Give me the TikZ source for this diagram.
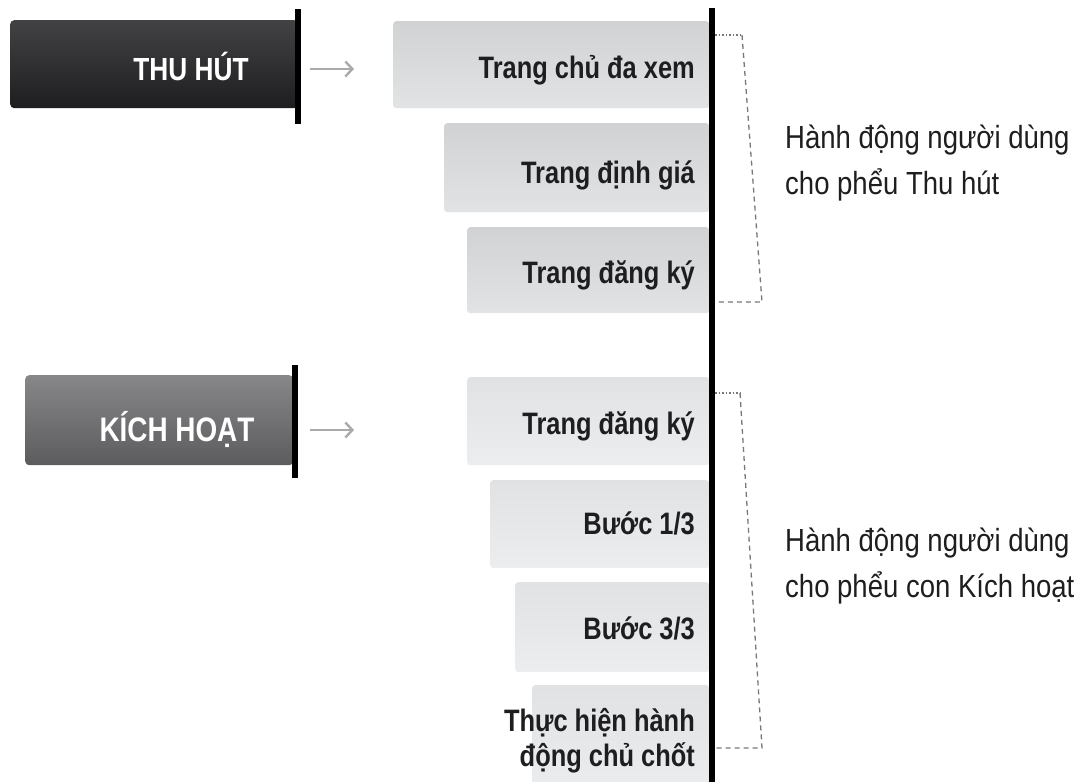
\documentclass[tikz,border=0pt]{standalone}
\usepackage{fontspec}
\setmainfont{Liberation Sans}[FakeStretch=0.86]
\newfontfamily\cond{Liberation Sans}[FakeStretch=0.82]
\usetikzlibrary{arrows.meta}
\definecolor{darkA}{RGB}{66,66,68}
\definecolor{darkB}{RGB}{30,30,32}
\definecolor{midA}{RGB}{135,135,137}
\definecolor{midB}{RGB}{92,92,94}
\definecolor{boxA}{RGB}{208,210,212}
\definecolor{boxB}{RGB}{226,227,229}
\definecolor{boxC}{RGB}{224,226,228}
\definecolor{boxD}{RGB}{236,237,239}
\definecolor{txt}{RGB}{30,30,32}
\definecolor{arrowgray}{RGB}{170,170,170}
\definecolor{brk}{RGB}{120,120,120}
\tikzset{
  barbase/.style={rectangle, rounded corners=4pt, anchor=north west, inner sep=0pt},
  darkbar/.style={barbase, top color=darkA, bottom color=darkB},
  midbar/.style={barbase, top color=midA, bottom color=midB},
  bartext/.style={anchor=base, inner sep=0pt, text=white, font=\cond\bfseries\fontsize{32}{34}\selectfont},
  tickline/.style={line width=6pt, black},
  arr/.style={arrowgray, line width=2.6pt, -{Straight Barb[length=7pt,width=15pt,line width=2.4pt]}},
  boxbase/.style={rectangle, rounded corners=3pt, anchor=north west, inner sep=0pt},
  boxup/.style={boxbase, top color=boxA, bottom color=boxB},
  boxlow/.style={boxbase, top color=boxC, bottom color=boxD},
  boxtext/.style={anchor=base east, inner sep=0pt, text=txt, font=\cond\bfseries\fontsize{31}{35}\selectfont, align=right},
  axis/.style={line width=6pt, black},
  brkdot/.style={brk, line width=1.3pt, dash pattern=on 1.5pt off 2pt},
  brkdash/.style={brk, line width=1.3pt, dash pattern=on 5pt off 4pt},
  sidetext/.style={anchor=base west, inner sep=0pt, text=txt, align=left, font=\fontsize{32}{46}\selectfont}
}
\begin{document}
\begin{tikzpicture}[x=1pt,y=-1pt]
\useasboundingbox (0,0) rectangle (1090,782);
% left bars
\node[darkbar, minimum width=288pt, minimum height=88pt] (bar1) at (10,20) {};
\node[bartext] (bar1t) at (191,80) {THU HÚT};
\node[midbar, minimum width=268pt, minimum height=90pt] (bar2) at (25,375) {};
\node[bartext, font=\cond\bfseries\fontsize{34}{36}\selectfont] (bar2t) at (177,441) {KÍCH HOẠT};
\coordinate (t1a) at (298,9);
\coordinate (t1b) at (298,124);
\draw[tickline] (t1a) -- (t1b);
\coordinate (t2a) at (295,365);
\coordinate (t2b) at (295,478);
\draw[tickline] (t2a) -- (t2b);
% arrows
\coordinate (a1s) at (310,69);
\coordinate (a1e) at (354,69);
\draw[arr] (a1s) -- (a1e);
\coordinate (a2s) at (310,430);
\coordinate (a2e) at (354,430);
\draw[arr] (a2s) -- (a2e);
% boxes, top group
\node[boxup, minimum width=316pt, minimum height=87pt] (b1) at (393,21) {};
\node[boxup, minimum width=265pt, minimum height=89pt] (b2) at (444,123) {};
\node[boxup, minimum width=242pt, minimum height=86pt] (b3) at (467,227) {};
\node[boxtext] (b1t) at (695,78) {Trang chủ đa xem};
\node[boxtext] (b2t) at (695,183) {Trang định giá};
\node[boxtext] (b3t) at (695,283) {Trang đăng ký};
% boxes, bottom group
\node[boxlow, minimum width=242pt, minimum height=88pt] (b4) at (467,377) {};
\node[boxlow, minimum width=219pt, minimum height=88pt] (b5) at (490,480) {};
\node[boxlow, minimum width=194pt, minimum height=90pt] (b6) at (515,582) {};
\node[boxlow, minimum width=177pt, minimum height=110pt] (b7) at (532,685) {};
\node[boxtext] (b4t) at (695,434) {Trang đăng ký};
\node[boxtext] (b5t) at (695,534) {Bước 1/3};
\node[boxtext] (b6t) at (695,639) {Bước 3/3};
\node[boxtext] (b7t) at (695,766) {Thực hiện hành\\động chủ chốt};
% axis
\coordinate (axt) at (712,8);
\coordinate (axb) at (712,790);
\draw[axis] (axt) -- (axb);
% brackets
\coordinate (p1) at (715,35);
\coordinate (p2) at (742,35);
\coordinate (p3) at (762,302);
\coordinate (p4) at (715,302);
\draw[brkdot] (p1) -- (p2);
\draw[brkdash] (p2) -- (p3) -- (p4);
\coordinate (q1) at (715,393);
\coordinate (q2) at (740,393);
\coordinate (q3) at (762,748);
\coordinate (q4) at (715,748);
\draw[brkdot] (q1) -- (q2);
\draw[brkdash] (q2) -- (q3) -- (q4);
% side texts
\node[sidetext] (s1) at (785,194) {Hành động người dùng\\cho phểu Thu hút};
\node[sidetext] (s2) at (785,597) {Hành động người dùng\\cho phểu con Kích hoạt};
\end{tikzpicture}
\end{document}
